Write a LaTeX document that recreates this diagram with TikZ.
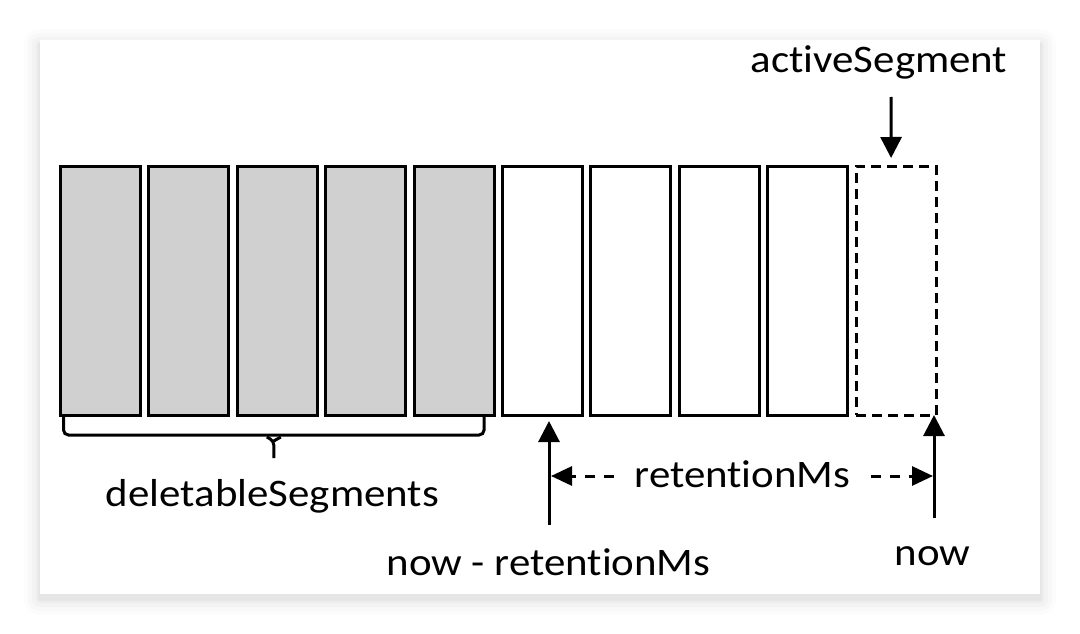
\documentclass[tikz,border=0pt]{standalone}
\usepackage{fontspec}
\setmainfont{Carlito}[Ligatures=NoCommon, FakeStretch=1.1]
\usetikzlibrary{arrows.meta,positioning,calc}
\definecolor{oldColor}{HTML}{D0D0D0}
\tikzset{
	segbox/.style={draw, line width=3pt, minimum width=80pt, minimum height=249pt,
		inner sep=0, outer sep=0},
	oldseg/.style={segbox, fill=oldColor},
	newseg/.style={segbox, fill=white},
	activeseg/.style={segbox, fill=white, dash pattern=on 10pt off 6pt},
	lbl/.style={font=\fontsize{39}{45}\selectfont, inner sep=0, anchor=base},
	marker/.style={-{Triangle[width=21pt,length=21pt]}, line width=3pt},
	dim/.style={-{Triangle[width=19pt,length=21pt]}, line width=3pt, dash pattern=on 10pt off 9pt}
}
\begin{document}
\begin{tikzpicture}[x=1pt, y=-1pt]
	\useasboundingbox (0,0) rectangle (1080,634);
	% card with soft shadow
	\foreach \s/\o in {16/0.012,12/0.015,8/0.02,4/0.025,2/0.03}
		\fill[black, opacity=\o, rounded corners=\s pt] (40-\s,40-\s+5) rectangle (1040+\s,594+\s+5);
	\fill[white] (40,40) rectangle (1040,594);
	
	% segments
	\foreach \i in {1,...,5}
		\node[oldseg] (s\i) at (100.5+88.4*\i-88.4, 290.5) {};
	\foreach \i in {6,...,9}
		\node[newseg] (s\i) at (100.5+88.4*\i-88.4, 290.5) {};
	\node[activeseg] (s10) at (896.1, 290.5) {};
	
	% labels
	\node[lbl] (actlbl) at (879, 73) {activeSegment};
	\node[lbl] (dellbl) at (272.5, 506.5) {deletableSegments};
	\node[lbl] (nrlbl) at (548.5, 575) {now - retentionMs};
	\node[lbl] (nowlbl) at (932.5, 565) {now};
	\node[lbl] (retlbl) at (742.5, 487) {retentionMs};
	
	% brace under the deletable ones
	\coordinate (brl) at ($(s1.south west)+(3,2)$);
	\coordinate (brr) at ($(s5.south east)+(-10,2)$);
	\coordinate (brm) at ($(brl)!0.5!(brr)+(0,20)$);
	\draw[line width=3pt, rounded corners=5pt] (brl) -- ++(0,18) -| (brr);
	\draw[line width=3pt, rounded corners=4pt] ($(brm)+(-7,0)$) -- ($(brm)+(0,4)$) -- ($(brm)+(0,21)$);
	\draw[line width=3pt, rounded corners=4pt] ($(brm)+(7,0)$) -- ($(brm)+(0,4)$);
	
	% arrows
	\draw[marker, shorten >=1pt] ($(actlbl.base)+(12,24)$) -- ($(s10.north)+(-5,-7)$);
	\coordinate (nrx) at ($(nrlbl.base)+(0.5,-50)$);
	\draw[marker, shorten >=6pt] (nrx) -- (nrx |- s6.south);
	\coordinate (nowx) at ($(nowlbl.base)+(1.5,-47)$);
	\draw[marker] (nowx) -- (nowx |- s10.south);
	\coordinate (retmid) at ($(retlbl.base)+(0,-11)$);
	\draw[dim] ($(retlbl.west |- retmid)+(-20,0)$) -- ($(nrx |- retmid)+(2,0)$);
	\draw[dim] ($(retlbl.east |- retmid)+(20,0)$) -- ($(nowx |- retmid)+(-1,0)$);
\end{tikzpicture}
\end{document}
